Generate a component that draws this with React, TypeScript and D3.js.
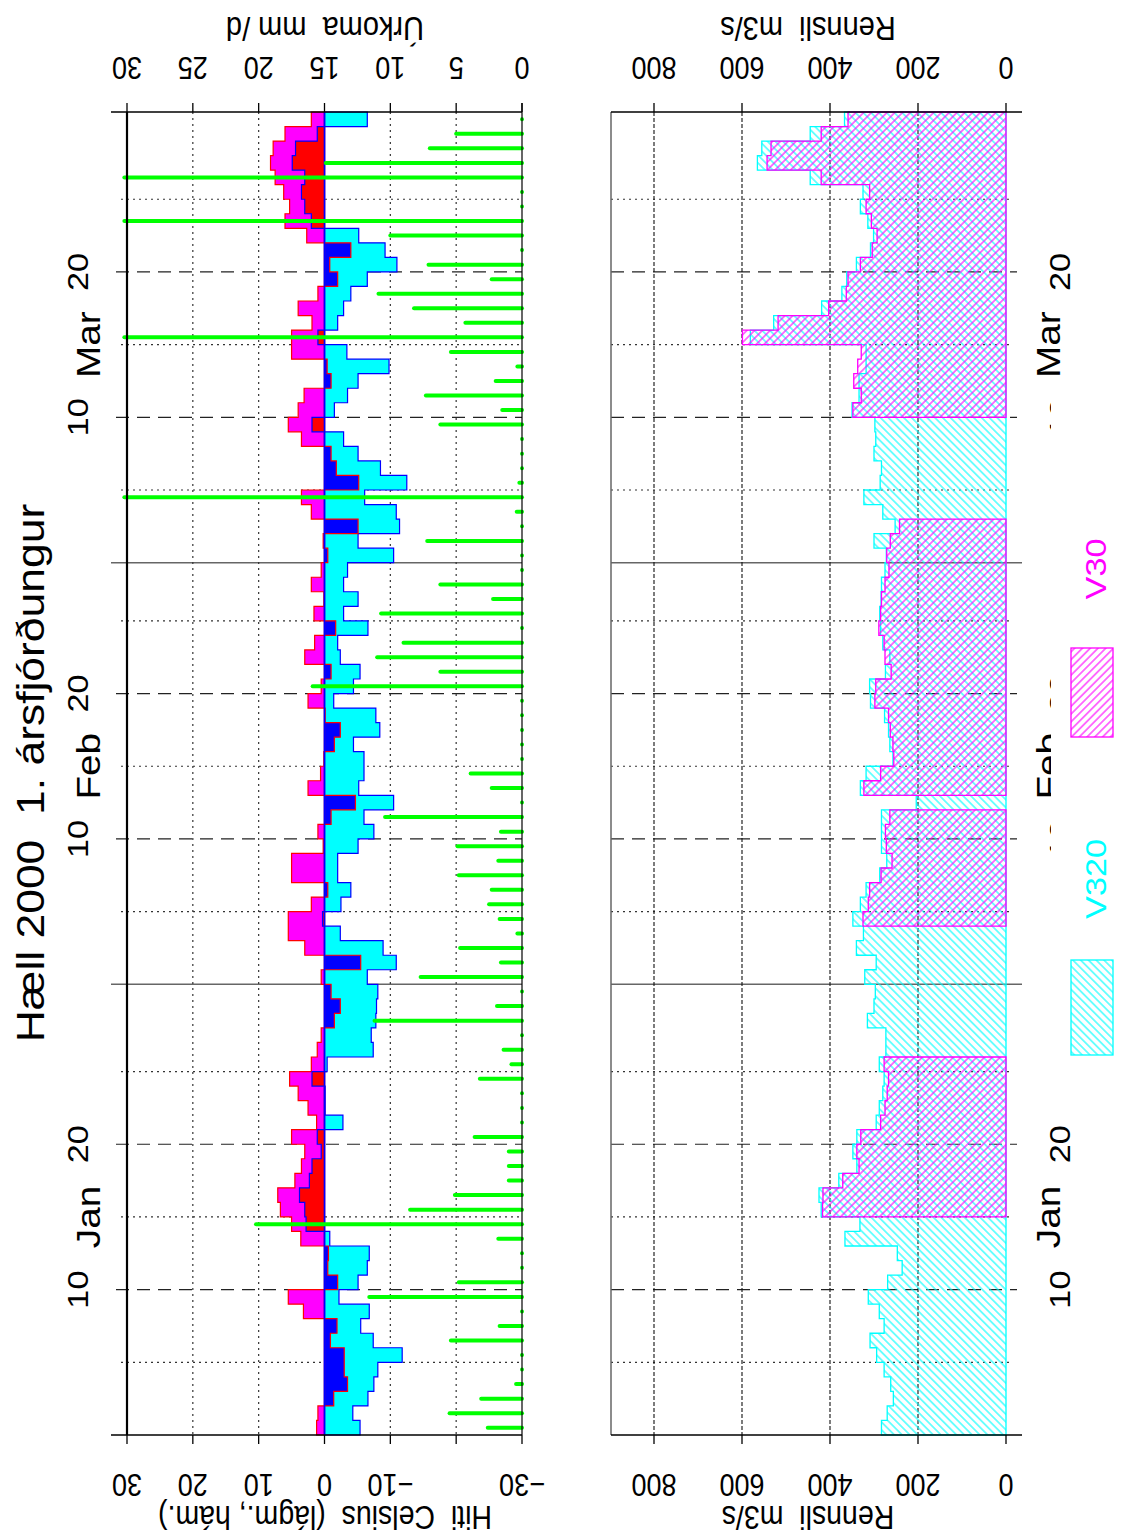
import React from "react";
import * as d3 from "d3";

// daily values, 1 Jan - 31 Mar 2000 (day 1 .. day 91)
const tMax = [
  1.2, 1.0, -1.4, -3.5, -3.0, -3.0, -0.9, -1.9, 3.2, 5.5,
  -2.0, -0.5, -0.6, 3.6, 5.0, 6.7, 7.1, 4.5, 3.5, 3.0,
  5.0, 1.2, 2.5, 4.0, 5.3, 2.0, 1.1, 0.5, -1.5, -2.4,
  -1.0, 0.5, -5.5, 3.0, 5.5, 5.5, 2.0, -0.5, 5.0, 5.0,
  0.2, 1.0, -1.0, -4.7, 2.5, 0.6, 0.1, -1.5, -2.4, -0.1,
  2.5, 0.5, -1.0, 3.0, 1.5, -1.7, 1.6, 0.1, 2.0, 0.5,
  -0.5, 0.2, -5.1, 2.0, 3.5, -5.2, -1.8, -1.0, 3.5, 5.5,
  4.0, 3.1, -1.0, -0.4, 5.0, 5.0, 1.9, 4.0, 1.0, -2.0,
  -0.8, -4.0, 2.7, 6.0, 5.3, 6.2, 7.5, 8.2, 7.8, 6.0,
  2.0,
];
const tMin = [
  -5.4, -4.3, -6.6, -7.5, -8.1, -11.8, -7.4, -5.5, -6.8, -2.2,
  -5.1, -6.5, -6.8, -0.8, 2.8, 3.0, 3.8, 2.3, 1.9, 0.5,
  1.1, -2.8, -0.1, -0.1, 1.9, -0.4, -7.4, -7.1, -7.8, -7.9,
  -8.1, -6.5, -10.9, -8.9, -2.4, 0.3, -2.5, -4.0, -2.0, -2.0,
  -5.1, -7.5, -6.0, -10.5, -5.2, -6.0, -6.0, -4.4, -8.4, -7.8,
  -1.4, -4.4, -5.4, -2.4, -2.0, -6.6, -2.9, -5.1, -2.9, -3.5,
  -10.5, -5.1, -11.4, -10.9, -6.1, -12.5, -8.5, -5.1, -2.9, 1.9,
  -1.5, -3.5, -5.1, -9.8, -3.4, 1.0, -2.0, -2.9, -4.0, -6.5,
  -11.0, -9.2, -5.2, 2.0, 3.0, 3.5, 3.0, 4.9, 4.4, 1.1,
  -6.5,
];
const rain = [
  2.6, 5.5, 3.1, 0.45, 0, 0, 5.4, 1.7, 0, 11.6,
  4.8, 0, 0, 1.8, 20.2, 8.5, 5.1, 1.0, 1.0, 1.0,
  3.6, 0, 0, 0, 3.2, 0.8, 1.4, 0, 11.2, 1.9,
  0, 7.7, 1.6, 4.7, 0.35, 1.7, 2.5, 2.3, 4.8, 1.8,
  4.9, 1.6, 10.4, 0, 2.3, 3.9, 0, 0, 0, 0,
  0, 15.9, 6.2, 11.0, 9.0, 0, 10.7, 2.2, 6.2, 0,
  0, 7.2, 0, 0.4, 30.2, 0.2, 0, 0, 0, 6.2,
  1.5, 7.3, 2.0, 0.35, 5.4, 30.2, 4.3, 8.2, 10.9, 2.3,
  7.1, 0, 10.0, 30.2, 0, 0, 30.2, 14.9, 7.0, 5.0,
  0,
];
const flowV320 = [
  283, 270, 256, 262, 277, 294, 309, 277, 288, 313,
  269, 236, 247, 366, 332, 420, 425, 380, 339, 348,
  339, 295, 288, 280, 277, 288, 273, 273, 315, 300,
  297, 321, 295, 340, 324, 348, 331, 318, 287, 271,
  283, 283, 283, 204, 331, 318, 257, 264, 267, 276,
  308, 310, 274, 264, 280, 285, 287, 284, 283, 275,
  272, 300, 252, 280, 323, 286, 283, 300, 296, 298,
  350, 334, 334, 318, 318, 581, 528, 419, 373, 362,
  340, 308, 301, 314, 331, 325, 445, 565, 555, 445,
  367,
];
const N = null;
const flowV30 = [
  N, N, N, N, N, N, N, N, N, N,
  N, N, N, N, N, 417, 416, 371, 334, 339,
  330, 285, 275, 270, 267, 277, N, N, N, N,
  N, N, N, N, N, 325, 313, 310, 284, 259,
  272, 274, 264, N, 323, 285, 255, 257, 263, 267,
  298, 296, 261, 275, 277, 289, 285, 283, 275, 266,
  271, 263, 242, N, N, N, N, N, N, N,
  348, 329, 346, 337, 329, 599, 518, 403, 363, 359,
  331, 304, 293, 306, 318, 310, 420, 543, 534, 420,
  359,
];

const tempTicks = [30, 20, 10, 0, -10, -20, -30];
const tempLabels = ["30", "20", "10", "0", "\u221210", "", "\u221230"];
const rainTicks = [0, 5, 10, 15, 20, 25, 30];
const flowTicks = [0, 200, 400, 600, 800];
const monthNames = ["Jan", "Feb", "Mar"];
const monthStart = [0, 31, 60];

const SY = 1.14; // picture is a bit stretched along the time axis
const FONT = "Liberation Sans, Arial, Helvetica, sans-serif";

type P = { t: number; v: number };

// contiguous runs of daily values as step points
function steps(vals: (number | null)[]): P[][] {
  const runs: P[][] = [];
  let cur: P[] | null = null;
  vals.forEach((v, i) => {
    if (v == null) { cur = null; return; }
    if (!cur) { cur = []; runs.push(cur); }
    cur.push({ t: i, v }, { t: i + 1, v });
  });
  return runs;
}

const Up = ({ x, y, size, fill = "#000", children }: any) => (
  <text transform={`translate(${x},${y}) scale(1,${SY}) rotate(-90)`} fontSize={size}
    textAnchor="middle" fill={fill} style={{ whiteSpace: "pre" }}>{children}</text>
);
const Flip = ({ x, y, size, children }: any) => (
  <text transform={`translate(${x},${y}) scale(1,${SY}) rotate(180)`} fontSize={size}
    textAnchor="middle" style={{ whiteSpace: "pre" }}>{children}</text>
);

export default function App() {
  const yT = d3.scaleLinear().domain([0, 91]).range([1435, 112]);
  const xT = d3.scaleLinear().domain([-30, 30]).range([522, 127]);
  const xP = d3.scaleLinear().domain([0, 30]).range([522, 127]);
  const xF = d3.scaleLinear().domain([0, 800]).range([1006, 654]);

  const areaT = d3.area<P>().y(d => yT(d.t)).x0(xT(0)).x1(d => xT(d.v));
  const areaF = d3.area<P>().y(d => yT(d.t)).x0(xF(0)).x1(d => xF(d.v));

  const layers = [
    { vals: tMax.map(v => Math.max(v, 0)), fill: "#ff00ff", stroke: "#ff0000" },
    { vals: tMin.map(v => Math.min(v, 0)), fill: "#00ffff", stroke: "#0000ff" },
    { vals: tMin.map(v => Math.max(v, 0)), fill: "#ff0000", stroke: "#0000ff" },
    { vals: tMax.map(v => Math.min(v, 0)), fill: "#0000ff", stroke: "#ff0000" },
  ];

  const grid: { t: number; kind: string }[] = [];
  monthStart.forEach((m, i) => {
    if (i > 0) grid.push({ t: m, kind: "solid" });
    [5, 10, 15, 20, 25].forEach(o => grid.push({ t: m + o, kind: o % 10 === 0 ? "dash" : "dot" }));
  });
  const tickLen: any = { solid: 16, dash: 11, dot: 6 };
  const gstyle: any = {
    solid: { stroke: "#666", strokeWidth: 1.5 },
    dash: { stroke: "#222", strokeWidth: 1.2, strokeDasharray: "13,8" },
    dot: { stroke: "#333", strokeWidth: 1.2, strokeDasharray: "2,4" },
  };

  return (
    <svg width={1123} height={1539} style={{ position: "absolute", left: 0, top: 0, background: "#fff" }}
      fontFamily={FONT}>
      <defs>
        <pattern id="hatchC" patternUnits="userSpaceOnUse" width={5.5} height={5.5} patternTransform="rotate(-45)">
          <line x1={2.75} y1={0} x2={2.75} y2={5.5} stroke="#00ffff" strokeWidth={1.1} />
        </pattern>
        <pattern id="hatchM" patternUnits="userSpaceOnUse" width={5.5} height={5.5} patternTransform="rotate(45)">
          <line x1={2.75} y1={0} x2={2.75} y2={5.5} stroke="#ff00ff" strokeWidth={1.1} />
        </pattern>
      </defs>

      <Up x={44} y={773} size={39}>{"Hæll 2000  1. ársfjórðungur"}</Up>

      {/* ---------- top panel: temperature and precipitation ---------- */}
      {grid.map((g, i) => (
        <line key={"gt" + i} x1={xT(30) - tickLen[g.kind]} x2={xT(-30)} y1={yT(g.t)} y2={yT(g.t)} {...gstyle[g.kind]} />
      ))}
      {[20, 10, -10, -20].map(v => (
        <line key={"vt" + v} x1={xT(v)} x2={xT(v)} y1={yT(91)} y2={yT(0)} stroke="#333" strokeWidth={1.2} strokeDasharray="2,4" />
      ))}
      {layers.map((L, i) =>
        steps(L.vals).map((run, j) => (
          <path key={`l${i}-${j}`} d={areaT(run) || ""} fill={L.fill} stroke={L.stroke} strokeWidth={1.2} />
        ))
      )}
      <line x1={xT(0)} x2={xT(0)} y1={yT(91)} y2={yT(0)} stroke="#0000ff" strokeWidth={1.5} />
      {rain.map((v, i) => (
        <line key={"r" + i} x1={xP(0)} x2={xP(v)} y1={yT(i + 0.5)} y2={yT(i + 0.5)}
          stroke="#00ff00" strokeWidth={4} strokeLinecap="round" />
      ))}
      <line x1={xT(30)} x2={xT(30)} y1={yT(91)} y2={yT(0)} stroke="#000" strokeWidth={2.2} />
      <line x1={xT(-30)} x2={xT(-30)} y1={yT(91) - 9} y2={yT(0)} stroke="#000" strokeWidth={1.2} />
      <line x1={111} x2={xT(-30)} y1={yT(91)} y2={yT(91)} stroke="#000" strokeWidth={1.5} />
      <line x1={111} x2={xT(-30)} y1={yT(0)} y2={yT(0)} stroke="#000" strokeWidth={1.5} />
      {tempTicks.map((v, i) => (
        <g key={"tt" + v}>
          <line x1={xT(v)} x2={xT(v)} y1={yT(0)} y2={yT(0) + 9} stroke="#000" strokeWidth={1.3} />
          <Flip x={xT(v)} y={1474} size={27}>{tempLabels[i]}</Flip>
        </g>
      ))}
      {rainTicks.map(v => (
        <g key={"rt" + v}>
          <line x1={xP(v)} x2={xP(v)} y1={yT(91) - 9} y2={yT(91)} stroke="#000" strokeWidth={1.3} />
          <Flip x={xP(v)} y={57} size={27}>{String(v)}</Flip>
        </g>
      ))}
      <Flip x={325} y={17} size={29}>{"Úrkoma  mm /d"}</Flip>
      <Flip x={325} y={1506} size={28.5}>{"Hiti  Celsius  (lágm., hám.)"}</Flip>
      {monthStart.map((m, i) => (
        <g key={"ml" + i}>
          <Up x={88} y={yT(m + 10)} size={30}>10</Up>
          <Up x={88} y={yT(m + 20)} size={30}>20</Up>
          <Up x={100} y={yT(m + 15)} size={34}>{monthNames[i]}</Up>
        </g>
      ))}

      {/* ---------- bottom panel: discharge ---------- */}
      {grid.map((g, i) => (
        <line key={"gf" + i} x1={611} x2={xF(0) + tickLen[g.kind]} y1={yT(g.t)} y2={yT(g.t)} {...gstyle[g.kind]} />
      ))}
      {[200, 400, 600, 800].map(v => (
        <line key={"vf" + v} x1={xF(v)} x2={xF(v)} y1={yT(91)} y2={yT(0)} stroke="#111" strokeWidth={1.1} strokeDasharray="4,2" />
      ))}
      {steps(flowV320).map((run, j) => (
        <path key={"c" + j} d={areaF(run) || ""} fill="url(#hatchC)" stroke="#00ffff" strokeWidth={1.3} />
      ))}
      {steps(flowV30).map((run, j) => (
        <path key={"m" + j} d={areaF(run) || ""} fill="url(#hatchM)" stroke="#ff00ff" strokeWidth={1.3} />
      ))}
      <line x1={611} x2={611} y1={yT(91)} y2={yT(0)} stroke="#666" strokeWidth={1.5} />
      <line x1={611} x2={1022} y1={yT(91)} y2={yT(91)} stroke="#000" strokeWidth={1.5} />
      <line x1={611} x2={1022} y1={yT(0)} y2={yT(0)} stroke="#000" strokeWidth={1.5} />
      {flowTicks.map(v => (
        <g key={"ft" + v}>
          <line x1={xF(v)} x2={xF(v)} y1={yT(91) - 9} y2={yT(91)} stroke="#000" strokeWidth={1.3} />
          <line x1={xF(v)} x2={xF(v)} y1={yT(0)} y2={yT(0) + 9} stroke="#000" strokeWidth={1.3} />
          <Flip x={xF(v)} y={57} size={27}>{String(v)}</Flip>
          <Flip x={xF(v)} y={1474} size={27}>{String(v)}</Flip>
        </g>
      ))}
      <Flip x={808} y={17} size={29}>{"Rennsli  m3/s"}</Flip>
      <Flip x={808} y={1506} size={28.5}>{"Rennsli  m3/s"}</Flip>
      {monthStart.map((m, i) => (
        <g key={"mr" + i}>
          <Up x={1070} y={yT(m + 10)} size={30}>10</Up>
          <Up x={1070} y={yT(m + 20)} size={30}>20</Up>
          <Up x={1060} y={yT(m + 15)} size={34}>{monthNames[i]}</Up>
        </g>
      ))}

      {/* legend */}
      <rect x={1051} y={392} width={72} height={698} fill="#fff" />
      <rect x={1071} y={960} width={42} height={95} fill="url(#hatchC)" stroke="#00ffff" strokeWidth={1.3} />
      <rect x={1071} y={648} width={42} height={89} fill="url(#hatchM)" stroke="#ff00ff" strokeWidth={1.3} />
      <Up x={1106} y={879} size={30} fill="#00ffff">V320</Up>
      <Up x={1106} y={569} size={30} fill="#ff00ff">V30</Up>
    </svg>
  );
}
